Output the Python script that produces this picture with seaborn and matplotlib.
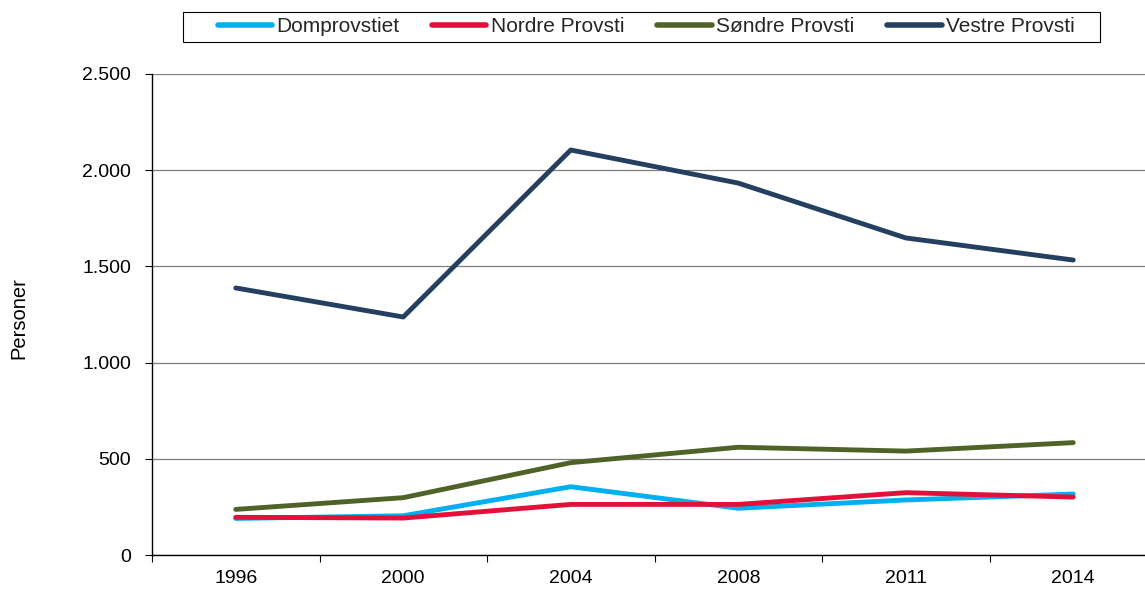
import matplotlib
matplotlib.use("Agg")
import matplotlib.pyplot as plt
import seaborn as sns
import pandas as pd
from matplotlib.ticker import FuncFormatter, FixedLocator
from matplotlib.patches import Rectangle

years = ["1996", "2000", "2004", "2008", "2011", "2014"]
domprovstiet = [190, 204, 355, 243, 286, 317]
nordre = [196, 192, 263, 263, 324, 301]
sondre = [237, 298, 480, 560, 540, 584]
vestre = [1388, 1237, 2105, 1933, 1648, 1533]
series_names = ["Domprovstiet", "Nordre Provsti", "Søndre Provsti", "Vestre Provsti"]
colors = ["#00B0F0", "#E3103A", "#4F6228", "#243F60"]

rows = []
for name, vals in zip(series_names, [domprovstiet, nordre, sondre, vestre]):
    for i, (y, v) in enumerate(zip(years, vals)):
        rows.append({"pos": i, "year": y, "value": v, "series": name})
df = pd.DataFrame(rows)

sns.set_theme(style="white")
plt.rcParams["font.family"] = ["Liberation Sans", "DejaVu Sans"]

fig = plt.figure(figsize=(11.45, 5.92), dpi=100)
ax = fig.add_axes([152/1145, 1-555/592, 1005/1145, (555-74)/592])

sns.lineplot(data=df, x="pos", y="value", hue="series", hue_order=series_names,
             palette=colors, linewidth=3.5, ax=ax, legend=True)

ax.set_xlim(-0.5, 5.5)
ax.set_ylim(0, 2500)
ax.set_yticks([0, 500, 1000, 1500, 2000, 2500])
ax.yaxis.set_major_formatter(FuncFormatter(lambda v, p: f"{int(v):,}".replace(",", ".")))
ax.set_xticks(range(len(years)))
ax.set_xticklabels(years)
ax.xaxis.set_minor_locator(FixedLocator([i - 0.5 for i in range(len(years) + 1)]))
ax.tick_params(axis="x", which="major", length=0, pad=11, labelsize=14, colors="black")
ax.tick_params(axis="x", which="minor", length=5, width=0.8, color="black", direction="out", bottom=True)
ax.tick_params(axis="y", which="major", length=5, width=0.8, color="black", direction="out", left=True,
               labelsize=14, pad=10, labelcolor="black")

ax.grid(axis="y", color="#7f7f7f", linewidth=0.9)
ax.set_axisbelow(True)
for s in ["top", "right"]:
    ax.spines[s].set_visible(False)
for s in ["left", "bottom"]:
    ax.spines[s].set_color("black")
    ax.spines[s].set_linewidth(1.0)

ax.set_xlabel("")
ax.set_ylabel("")
fig.text(19/1145, 1-318/592, "Personer", rotation=90, ha="center", va="center", fontsize=14.5, color="black")

handles, labels = ax.get_legend_handles_labels()
ax.legend_.remove()
leg = fig.legend(handles, labels, ncol=4, loc="center",
                 bbox_to_anchor=(646/1145, 1-27/592),
                 frameon=False, fontsize=15,
                 handlelength=2.6, handletextpad=0.2, columnspacing=1.6, borderpad=0.2,
                 borderaxespad=0)
for h in leg.get_lines():
    h.set_linewidth(4)
fig.add_artist(Rectangle((183/1145, 1-42/592), 917/1145, 30/592, transform=fig.transFigure,
                         fill=False, edgecolor="black", linewidth=0.8))

fig.savefig("out.png", dpi=100)
